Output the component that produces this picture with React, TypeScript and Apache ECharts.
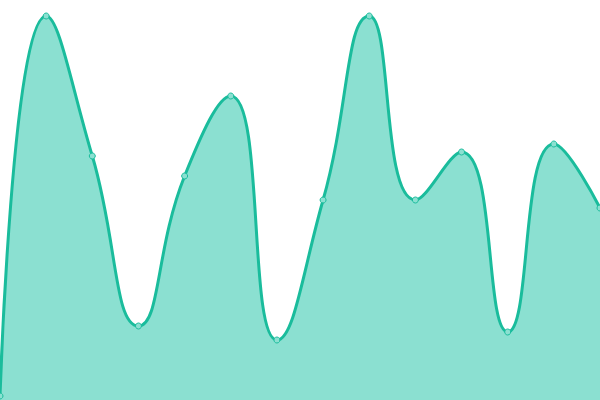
import { useEffect, useRef } from 'react'
import * as echarts from 'echarts'

const categories = ['1', '2', '3', '4', '5', '6', '7', '8', '9', '10', '11', '12', '13', '14']
const values = [1, 96, 61, 18.5, 56, 76, 15, 50, 96, 50, 62, 17, 64, 48]

export default function App() {
  const chartRef = useRef<HTMLDivElement>(null)

  useEffect(() => {
    if (!chartRef.current) return

    const chart = echarts.init(chartRef.current, undefined, { renderer: 'svg' })

    const option = {
      animation: false,
      grid: {
        left: 0,
        right: 0,
        top: 0,
        bottom: 0
      },
      xAxis: {
        type: 'category',
        data: categories,
        boundaryGap: false,
        show: false
      },
      yAxis: {
        type: 'value',
        min: 0,
        max: 100,
        show: false
      },
      series: [
        {
          type: 'line',
          data: values,
          smooth: true,
          symbol: 'circle',
          symbolSize: 6,
          lineStyle: {
            color: '#1abc9c',
            width: 3
          },
          itemStyle: {
            color: '#8be0d1',
            borderColor: '#1abc9c',
            borderWidth: 1
          },
          areaStyle: {
            color: '#8be0d1',
            opacity: 1
          }
        }
      ]
    }

    chart.setOption(option)

    return () => {
      chart.dispose()
    }
  }, [])

  return (
    <div
      ref={chartRef}
      style={{ position: 'fixed', left: 0, top: 0, width: 600, height: 400 }}
    />
  )
}
